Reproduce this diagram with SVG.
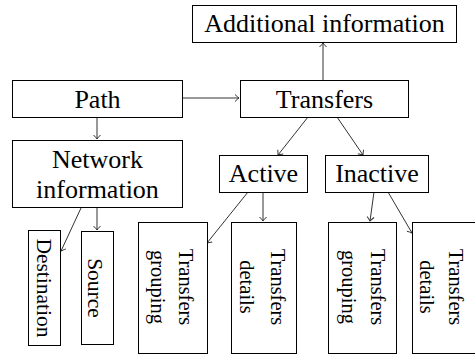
<svg xmlns="http://www.w3.org/2000/svg" width="475" height="355" viewBox="0 0 475 355" font-family="'Liberation Serif', 'Times New Roman', Times, serif">
<defs>
<style>
.box{fill:#fff;stroke:#000;stroke-width:1}
text{font-family:'Liberation Serif','Times New Roman',Times,serif;fill:#000;text-anchor:middle}
.t{font-size:26px}
.r{font-size:20.5px}
.r1{font-size:21.5px}
.c{fill:none;stroke:#333;stroke-width:1;marker-end:url(#ah)}
</style>
<marker id="ah" viewBox="-5 -5 6 10" markerWidth="6" markerHeight="10" refX="0" refY="0" orient="auto" markerUnits="userSpaceOnUse">
<path d="M-4,-3.5 Q-1.5,-1 0,0 Q-1.5,1 -4,3.5" fill="none" stroke="#333" stroke-width="1"/>
</marker>
</defs>
<g id="connectors">
<line class="c" x1="182" y1="98" x2="239" y2="98"/>
<line class="c" x1="323" y1="80" x2="323" y2="43"/>
<line class="c" x1="97" y1="117" x2="97" y2="139"/>
<line class="c" x1="308" y1="117" x2="278" y2="155"/>
<line class="c" x1="337" y1="117" x2="363" y2="155"/>
<line class="c" x1="81" y1="208" x2="61" y2="251"/>
<line class="c" x1="97" y1="208" x2="97" y2="230"/>
<line class="c" x1="248" y1="192" x2="207" y2="243"/>
<line class="c" x1="263" y1="192" x2="263" y2="221"/>
<line class="c" x1="374" y1="192" x2="370" y2="221"/>
<line class="c" x1="388" y1="192" x2="412" y2="233"/>
</g>
<g id="additional"><rect class="box" x="192.5" y="5.5" width="264" height="37"/><text class="t" x="324.5" y="32">Additional information</text></g>
<g id="path"><rect class="box" x="12.5" y="80.5" width="170" height="37"/><text class="t" x="97.5" y="108">Path</text></g>
<g id="transfers"><rect class="box" x="240.5" y="80.5" width="168" height="37"/><text class="t" x="324.5" y="108">Transfers</text></g>
<g id="network"><rect class="box" x="12.5" y="140.5" width="170" height="67"/><text class="t" x="97.5" y="168">Network</text><text class="t" x="97.5" y="198">information</text></g>
<g id="active"><rect class="box" x="219.5" y="155.5" width="88" height="37"/><text class="t" x="263.5" y="182">Active</text></g>
<g id="inactive"><rect class="box" x="325.5" y="155.5" width="103" height="37"/><text class="t" x="377" y="182">Inactive</text></g>
<g id="destination"><rect class="box" x="28.5" y="230.5" width="32" height="115"/><text class="r1" transform="translate(36.5,288) rotate(90)">Destination</text></g>
<g id="source"><rect class="box" x="81.5" y="231.5" width="32" height="113"/><text class="r1" transform="translate(88,288) rotate(90)">Source</text></g>
<g id="active-grouping"><rect class="box" x="138.5" y="222.5" width="69" height="131"/><text class="r" transform="translate(179,287) rotate(90)">Transfers</text><text class="r" transform="translate(151,287) rotate(90)">grouping</text></g>
<g id="active-details"><rect class="box" x="231.5" y="222.5" width="65" height="131"/><text class="r" transform="translate(270.5,287) rotate(90)">Transfers</text><text class="r" transform="translate(240,287) rotate(90)">details</text></g>
<g id="inactive-grouping"><rect class="box" x="328.5" y="222.5" width="68" height="131"/><text class="r" transform="translate(371,287) rotate(90)">Transfers</text><text class="r" transform="translate(342,287) rotate(90)">grouping</text></g>
<g id="inactive-details"><rect class="box" x="412.5" y="222.5" width="65" height="131"/><text class="r" transform="translate(449,287) rotate(90)">Transfers</text><text class="r" transform="translate(420,287) rotate(90)">details</text></g>
</svg>
